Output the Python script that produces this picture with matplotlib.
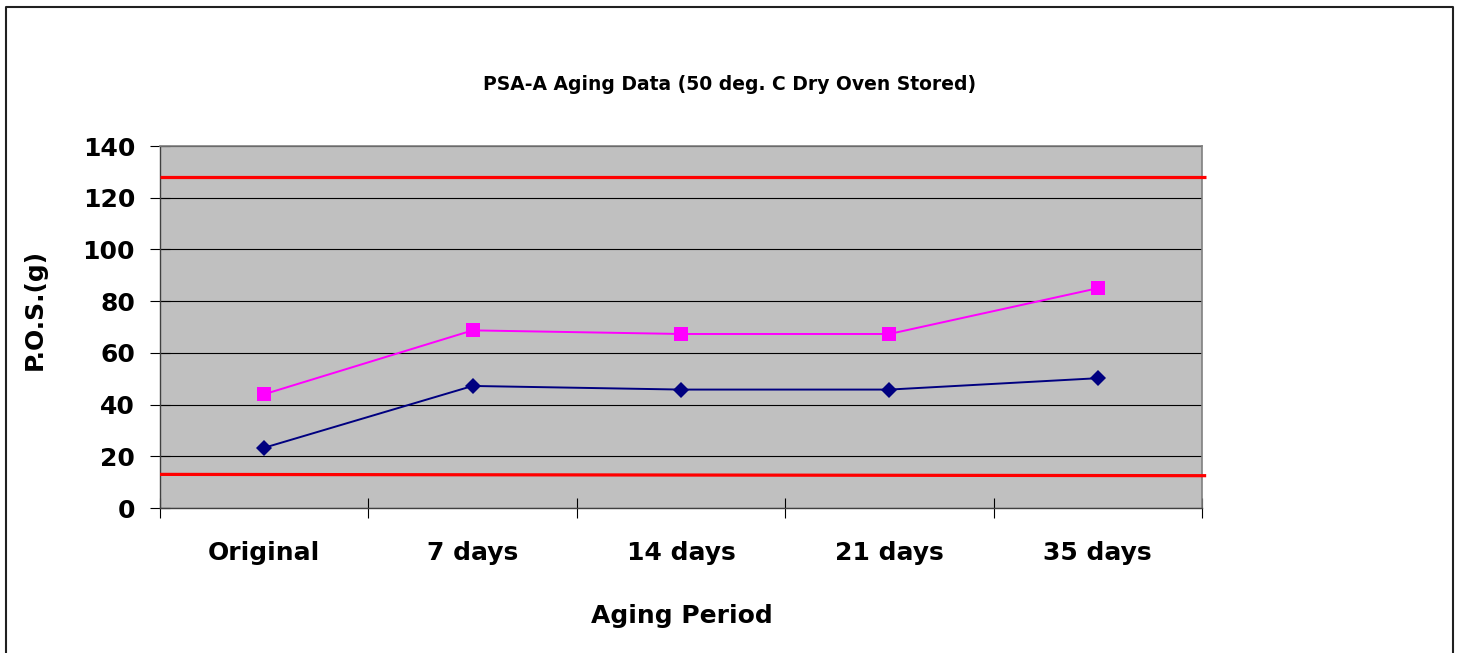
import matplotlib
matplotlib.use("Agg")
import matplotlib.pyplot as plt
from matplotlib.lines import Line2D
from matplotlib.ticker import FixedLocator, NullFormatter, FixedFormatter

# Chart values
periods = ["Original", "7 days", "14 days", "21 days", "35 days"]
pos_upper = [44.0, 68.7, 67.3, 67.3, 85.0]   # magenta squares
pos_lower = [23.3, 47.2, 45.8, 45.8, 50.2]   # navy diamonds
upper_limit = [128.0, 128.0]
lower_limit = [13.0, 12.5]
y_ticks = [0, 20, 40, 60, 80, 100, 120, 140]

plt.rcParams['font.family'] = ['DejaVu Sans']
plt.rcParams['font.weight'] = 'bold'

fig = plt.figure(figsize=(14.62, 6.53), dpi=100)
ax = fig.add_axes([160 / 1462, 1 - 508 / 653, (1202 - 160) / 1462, (508 - 146) / 653])
ax.set_facecolor('#C0C0C0')

x = list(range(len(periods)))
n = len(periods)

# limit lines run across the whole category range
lim_x = [-0.5, n - 0.5 + 0.02]
ax.plot(lim_x, upper_limit, color='#FF0000', lw=2.3, clip_on=False, zorder=3,
        solid_capstyle='butt')
ax.plot(lim_x, lower_limit, color='#FF0000', lw=2.3, clip_on=False, zorder=3,
        solid_capstyle='butt')

ax.plot(x, pos_upper, color='#FF00FF', lw=1.4, marker='s', ms=9.4,
        markeredgewidth=0, zorder=4)
ax.plot(x, pos_lower, color='#000080', lw=1.4, marker='D', ms=8.0,
        markeredgewidth=0, zorder=4)

ax.set_xlim(-0.5, n - 0.5)
ax.set_ylim(0, 140)

ax.set_yticks(y_ticks)
ax.yaxis.grid(True, color='black', lw=0.8)
ax.set_axisbelow(True)
ax.tick_params(axis='y', direction='inout', length=14, width=0.8, pad=11,
               labelsize=18, colors='black')

# category boundaries carry the ticks, labels sit in the middle
ax.xaxis.set_major_locator(FixedLocator([i - 0.5 for i in range(n + 1)]))
ax.xaxis.set_major_formatter(NullFormatter())
ax.xaxis.set_minor_locator(FixedLocator(x))
ax.xaxis.set_minor_formatter(FixedFormatter(periods))
ax.tick_params(axis='x', which='major', direction='inout', length=14, width=0.8)
ax.tick_params(axis='x', which='minor', length=0, pad=24, labelsize=18)

for side in ['top', 'right']:
    ax.spines[side].set_color('#808080')
    ax.spines[side].set_linewidth(1.2)
ax.spines['left'].set_color('#404040')
ax.spines['bottom'].set_color('#404040')
ax.spines['left'].set_linewidth(1.0)
ax.spines['bottom'].set_linewidth(1.0)

fig.text(730 / 1462, 1 - 84 / 653, "PSA-A Aging Data (50 deg. C Dry Oven Stored)",
         ha='center', va='center', fontsize=13.5, fontweight='bold')
fig.text(682 / 1462, 1 - 616 / 653, "Aging Period", ha='center', va='center',
         fontsize=18, fontweight='bold')
fig.text(35 / 1462, 1 - 309 / 653, "P.O.S.(g)", ha='center', va='center',
         rotation=90, fontsize=18, fontweight='bold')

# outer chart border (open at the bottom, as in the picture)
bx = [6 / 1462, 6 / 1462, 1453 / 1462, 1453 / 1462]
by = [0, 1 - 6.5 / 653, 1 - 6.5 / 653, 0]
fig.add_artist(Line2D(bx, by, transform=fig.transFigure, color='#202020', lw=1.5))

fig.savefig("out.png", dpi=100)
